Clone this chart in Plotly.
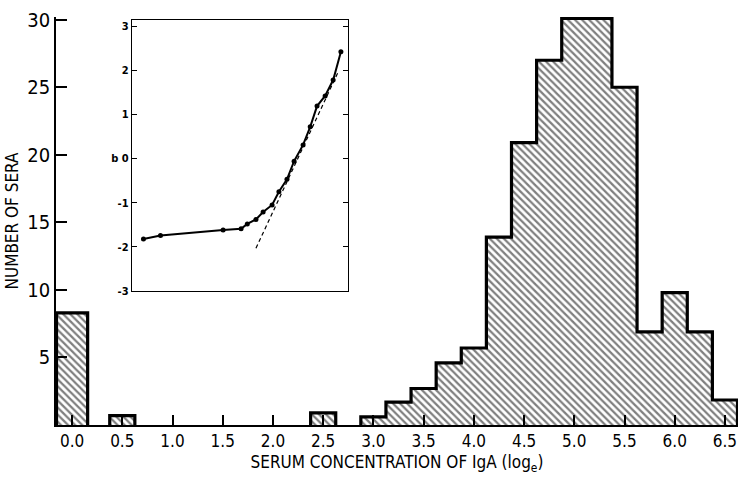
import plotly.graph_objects as go

# Histogram data (bin centres in log_e units, counts)
bin_centers = [0.0, 0.5, 2.5, 3.0, 3.25, 3.5, 3.75, 4.0, 4.25, 4.5, 4.75, 5.0, 5.25, 5.5, 5.75, 6.0, 6.25, 6.5]
bin_widths = [0.31, 0.25, 0.25, 0.25, 0.25, 0.25, 0.25, 0.25, 0.25, 0.25, 0.25, 0.25, 0.25, 0.25, 0.25, 0.25, 0.25, 0.25]
counts = [8.3, 0.7, 0.9, 0.6, 1.7, 2.7, 4.6, 5.7, 13.9, 20.9, 27.0, 30.1, 30.1, 25.0, 6.9, 9.8, 6.9, 1.85]

x_tick_vals = [0.0, 0.5, 1.0, 1.5, 2.0, 2.5, 3.0, 3.5, 4.0, 4.5, 5.0, 5.5, 6.0, 6.5]
x_tick_text = ["0.0", "0.5", "1.0", "1.5", "2.0", "2.5", "3.0", "3.5", "4.0", "4.5", "5.0", "5.5", "6.0", "6.5"]
y_tick_vals = [5, 10, 15, 20, 25, 30]

# Inset (probit plot) data
inset_x = [0.0, 0.55, 2.57, 3.15, 3.35, 3.63, 3.86, 4.15, 4.37, 4.63, 4.86, 5.15, 5.38, 5.6, 5.86, 6.12, 6.37]
inset_y = [-1.82, -1.74, -1.62, -1.59, -1.48, -1.38, -1.21, -1.05, -0.75, -0.47, -0.06, 0.31, 0.72, 1.19, 1.42, 1.78, 2.42]
fit_x = [3.63, 6.28]
fit_y = [-2.03, 1.96]
inset_tick_vals = [-3, -2, -1, 0, 1, 2, 3]
inset_tick_text = ["-3", "-2", "-1", "b 0", "1", "2", "3"]

FONT = "DejaVu Sans Condensed, Liberation Sans Narrow, Arial Narrow, sans-serif"

fig = go.Figure()

fig.add_trace(go.Bar(
    x=bin_centers, y=counts, width=bin_widths,
    marker=dict(color="white", line=dict(width=0),
                pattern=dict(shape="\\", fgcolor="black", bgcolor="white", size=5, solidity=0.45)),
    showlegend=False, hoverinfo="skip"))

# step outline (envelope) of contiguous groups of bars
ox, oy = [], []
prev_right = None
for c, w, v in zip(bin_centers, bin_widths, counts):
    left, right = c - w / 2, c + w / 2
    if prev_right is None or abs(left - prev_right) > 1e-6:
        if prev_right is not None:
            ox += [prev_right, None]
            oy += [0, None]
        ox += [left, left]
        oy += [0, v]
    else:
        ox += [left]
        oy += [v]
    ox += [right]
    oy += [v]
    prev_right = right
ox += [prev_right]
oy += [0]

fig.add_trace(go.Scatter(x=ox, y=oy, mode="lines", line=dict(color="black", width=3.2),
                         showlegend=False, hoverinfo="skip", cliponaxis=False))

fig.add_trace(go.Scatter(x=fit_x, y=fit_y, mode="lines", xaxis="x2", yaxis="y2",
                         line=dict(color="black", width=1.2, dash="4px,3px"),
                         showlegend=False, hoverinfo="skip"))
fig.add_trace(go.Scatter(x=inset_x, y=inset_y, mode="lines+markers", xaxis="x2", yaxis="y2",
                         line=dict(color="black", width=2),
                         marker=dict(color="black", size=5),
                         showlegend=False, hoverinfo="skip"))

fig.update_layout(
    width=738, height=478,
    margin=dict(l=56, r=0, t=17, b=53),
    paper_bgcolor="white", plot_bgcolor="white",
    font=dict(family=FONT, color="black"),
    bargap=0,
    xaxis=dict(range=[-0.16, 6.63], tickvals=x_tick_vals, ticktext=x_tick_text,
               ticks="inside", ticklen=10, tickwidth=1.5, tickcolor="black",
               showline=True, linecolor="black", linewidth=2, showgrid=False, zeroline=False,
               tickfont=dict(size=17),
               title=dict(text="SERUM CONCENTRATION OF IgA (log<sub>e</sub>)", font=dict(size=17), standoff=6)),
    yaxis=dict(range=[0, 30.2], tickvals=y_tick_vals,
               ticks="inside", ticklen=11, tickwidth=1.5, tickcolor="black",
               showline=True, linecolor="black", linewidth=1.5, showgrid=False, zeroline=False,
               tickfont=dict(size=20),
               title=dict(text="NUMBER OF SERA", font=dict(size=17), standoff=4)),
    xaxis2=dict(domain=[0.1114, 0.4282], anchor="y2", range=[-0.37, 6.6],
                showticklabels=False, ticks="", showline=True, mirror=True,
                linecolor="black", linewidth=1.3, showgrid=False, zeroline=False),
    yaxis2=dict(domain=[0.3284, 0.9926], anchor="x2", range=[-3, 3.14],
                tickvals=inset_tick_vals, ticktext=inset_tick_text,
                ticks="inside", ticklen=5, tickwidth=1.2, tickcolor="black",
                showline=True, mirror="ticks", linecolor="black", linewidth=1.3,
                showgrid=False, zeroline=False, tickfont=dict(size=11, weight="bold")),
)

fig.write_html("out.html")
